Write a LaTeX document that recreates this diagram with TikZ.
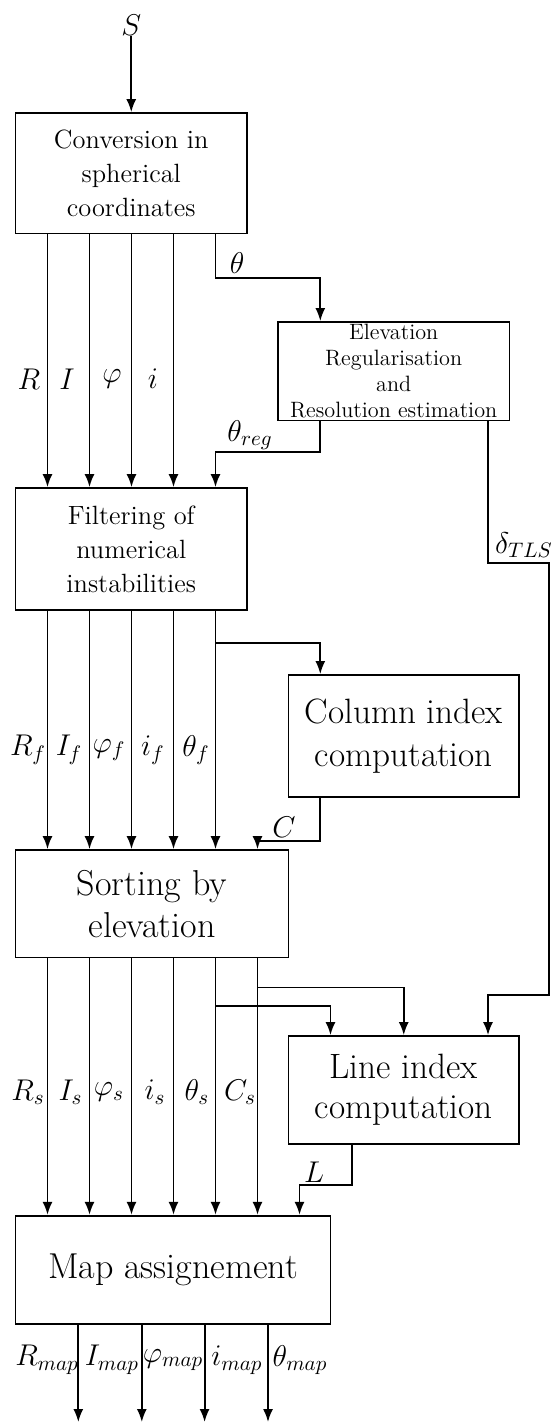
\RequirePackage{fix-cm}
\documentclass[tikz,border=0pt]{standalone}
\usepackage{fontspec}
\usetikzlibrary{arrows.meta}
\tikzset{
  block/.style={draw, line width=0.9pt, align=center, inner sep=0pt},
  flow/.style={line width=0.9pt, -{Latex[length=6.5pt,width=5pt]}},
  sig/.style={inner sep=0pt, font=\fontsize{15}{17}\selectfont},
}
\begin{document}
\begin{tikzpicture}[x=0.5pt,y=-0.5pt]
\useasboundingbox (0,0) rectangle (552,1424);
% blocks
\node[block, minimum width=115.75pt, minimum height=60.25pt, font=\fontsize{13.2}{17}\selectfont] (conv) at (131.25,173.25) {Conversion in\\spherical\\coordinates};
\node[block, minimum width=115.7pt, minimum height=49.25pt, font=\fontsize{11.1}{13}\selectfont] (elev) at (393.7,371.25) {Elevation\\Regularisation\\and\\Resolution estimation};
\node[block, minimum width=115.75pt, minimum height=61pt, font=\fontsize{13.2}{17}\selectfont] (filt) at (131.25,549) {Filtering of\\numerical\\instabilities};
\node[block, minimum width=115.25pt, minimum height=61pt, font=\fontsize{17.6}{21.5}\selectfont] (col) at (403.75,736) {Column index\\computation};
\node[block, minimum width=136.5pt, minimum height=53.75pt, font=\fontsize{18}{21}\selectfont] (sort) at (152,903.75) {Sorting by\\elevation};
\node[block, minimum width=115.25pt, minimum height=54pt, font=\fontsize{17.6}{20}\selectfont] (line) at (403.75,1090) {Line index\\computation};
\node[block, minimum width=157.5pt, minimum height=54.15pt, font=\fontsize{18}{20}\selectfont] (map) at (173,1269.85) {Map assignement};
% columns of the bus and bends
\coordinate (k1) at (47.5,0);
\coordinate (k2) at (89.5,0);
\coordinate (k3) at (131.5,0);
\coordinate (k4) at (173.5,0);
\coordinate (k5) at (215.5,0);
\coordinate (k6) at (257.5,0);
\coordinate (k7) at (299.5,0);
\coordinate (kth) at (320.3,0);
\coordinate (kts) at (330.5,0);
\coordinate (kL) at (351.7,0);
\coordinate (kd) at (488,0);
\coordinate (kr) at (549,0);
\coordinate (bth) at (0,278);
\coordinate (breg) at (0,452);
\coordinate (bd1) at (0,563);
\coordinate (bf) at (0,642.7);
\coordinate (bC) at (0,841);
\coordinate (bCs) at (0,987.4);
\coordinate (bd2) at (0,995);
\coordinate (bts) at (0,1005.8);
\coordinate (bL) at (0,1185);
\coordinate (o1) at (78.3,1422);
\coordinate (o2) at (141.8,1422);
\coordinate (o3) at (204.6,1422);
\coordinate (o4) at (268,1422);
% signals
\node[sig] (S) at (131.25,25) {$S$};
\node[sig] (nR) at (29,379) {$R$};
\node[sig] (nI) at (67,379) {$I$};
\node[sig] (nphi) at (112,379) {$\varphi$};
\node[sig] (ni) at (153,379) {$i$};
\node[sig] (nth) at (237,263) {$\theta$};
\node[sig] (nreg) at (250,435) {$\theta_{reg}$};
\node[sig] (ndel) at (524,545) {$\delta_{TLS}$};
\node[sig] (nRf) at (28,750) {$R_f$};
\node[sig] (nIf) at (69,750) {$I_f$};
\node[sig] (nphif) at (109,750) {$\varphi_f$};
\node[sig] (nif) at (153,750) {$i_f$};
\node[sig] (nthf) at (196,750) {$\theta_f$};
\node[sig] (nC) at (284,827) {$C$};
\node[sig] (nRs) at (28,1092) {$R_s$};
\node[sig] (nIs) at (70.5,1092) {$I_s$};
\node[sig] (nphis) at (109,1092) {$\varphi_s$};
\node[sig] (nis) at (155,1092) {$i_s$};
\node[sig] (nths) at (197,1092) {$\theta_s$};
\node[sig] (nCs) at (240,1092) {$C_s$};
\node[sig] (nL) at (314,1172) {$L$};
\node[sig] (nRm) at (47,1360) {$R_{map}$};
\node[sig] (nIm) at (112,1360) {$I_{map}$};
\node[sig] (nphim) at (173,1360) {$\varphi_{map}$};
\node[sig] (nim) at (237,1360) {$i_{map}$};
\node[sig] (nthm) at (300,1360) {$\theta_{map}$};
% connectors
\draw[flow] (S) -- (conv);
\draw[flow] (k1 |- conv.south) -- (k1 |- filt.north);
\draw[flow] (k2 |- conv.south) -- (k2 |- filt.north);
\draw[flow] (k3 |- conv.south) -- (k3 |- filt.north);
\draw[flow] (k4 |- conv.south) -- (k4 |- filt.north);
\draw[flow] (k5 |- conv.south) -- (k5 |- bth) -| (kth |- elev.north);
\draw[flow] (kth |- elev.south) -- (kth |- breg) -| (k5 |- filt.north);
\draw[flow] (kd |- elev.south) -- (kd |- bd1) -| (kr |- bd2) -| (kd |- line.north);
\draw[flow] (k1 |- filt.south) -- (k1 |- sort.north);
\draw[flow] (k2 |- filt.south) -- (k2 |- sort.north);
\draw[flow] (k3 |- filt.south) -- (k3 |- sort.north);
\draw[flow] (k4 |- filt.south) -- (k4 |- sort.north);
\draw[flow] (k5 |- filt.south) -- (k5 |- sort.north);
\draw[flow] (k5 |- bf) -| (kth |- col.north);
\draw[flow] (kth |- col.south) -- (kth |- bC) -| (k6 |- sort.north);
\draw[flow] (k1 |- sort.south) -- (k1 |- map.north);
\draw[flow] (k2 |- sort.south) -- (k2 |- map.north);
\draw[flow] (k3 |- sort.south) -- (k3 |- map.north);
\draw[flow] (k4 |- sort.south) -- (k4 |- map.north);
\draw[flow] (k5 |- sort.south) -- (k5 |- map.north);
\draw[flow] (k6 |- sort.south) -- (k6 |- map.north);
\draw[flow] (k6 |- bCs) -| (line.north);
\draw[flow] (k5 |- bts) -| (kts |- line.north);
\draw[flow] (kL |- line.south) -- (kL |- bL) -| (k7 |- map.north);
\draw[flow] (o1 |- map.south) -- (o1);
\draw[flow] (o2 |- map.south) -- (o2);
\draw[flow] (o3 |- map.south) -- (o3);
\draw[flow] (o4 |- map.south) -- (o4);
\end{tikzpicture}
\end{document}
